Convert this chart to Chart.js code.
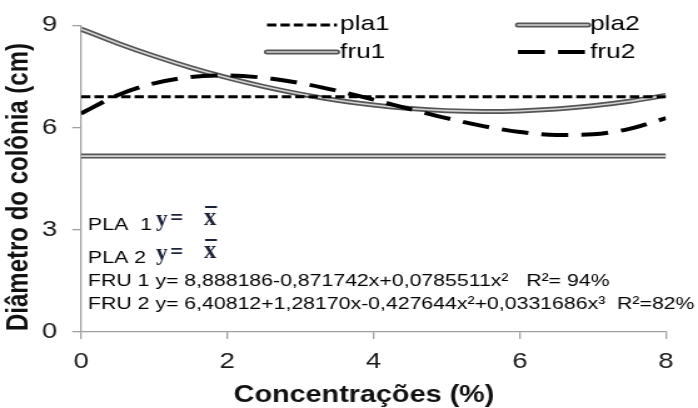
<!DOCTYPE html>
<html>
<head>
<meta charset="utf-8">
<script src="https://cdn.jsdelivr.net/npm/chart.js@4.4.1/dist/chart.umd.min.js"></script>
<style>
  html, body { margin: 0; padding: 0; background: #fff; }
</style>
</head>
<body>
<canvas id="c" width="558" height="408" style="display:block;width:698px;height:408px"></canvas>
<script>
// The drawing surface is 558 px wide and shown 698 px wide (horizontal stretch).
const SX = 698 / 558;

// Concentration (%) sample points of the fitted curves
const concentrations = [0, 0.5, 1, 1.5, 2, 2.5, 3, 3.5, 4, 4.5, 5, 5.5, 6, 6.5, 7, 7.5, 8];
// FRU 1: quadratic fit
const fru1 = [8.888, 8.472, 8.095, 7.757, 7.459, 7.200, 6.980, 6.799, 6.658, 6.556, 6.493, 6.470, 6.485, 6.540, 6.635, 6.768, 6.941];
// FRU 2: cubic fit
const fru2 = [6.408, 6.946, 7.295, 7.480, 7.526, 7.458, 7.300, 7.078, 6.815, 6.538, 6.272, 6.040, 5.868, 5.780, 5.802, 5.959, 6.275];
// PLA 1 / PLA 2: mean values (flat lines)
const plaRange = [0, 8];
const pla1 = [6.90, 6.90];
const pla2 = [5.16, 5.16];

const xTickValues = [0, 2, 4, 6, 8];
const yTickValues = [0, 3, 6, 9];
const seriesNames = ['pla1', 'pla2', 'fru1', 'fru2'];
const xTitle = 'Concentrações (%)';
const yTitle = 'Diâmetro do colônia (cm)';
const fruEquations = [
  'FRU 1 y= 8,888186-0,871742x+0,0785511x²   R²= 94%',
  'FRU 2 y= 6,40812+1,28170x-0,427644x²+0,0331686x³  R²=82%'
];
const plaLabels = ['PLA  1', 'PLA 2'];

const toPoints = (xs, ys) => xs.map((x, i) => ({ x: x, y: ys[i] }));

const DASH_SHORT = [7.5, 3.2];
const DASH_LONG = [21.5, 10.5];
const OUTER = '#555555';
const INNER = '#d4d4d4';
const SANS = '"Liberation Sans", Arial, sans-serif';

function lineSet(data, color, width, dash, order) {
  return {
    data: data,
    borderColor: color,
    borderWidth: width,
    borderDash: dash,
    pointRadius: 0,
    fill: false,
    cubicInterpolationMode: 'monotone',
    borderCapStyle: 'butt',
    order: order
  };
}

const datasets = [
  lineSet(toPoints(plaRange, pla2), OUTER, 5, [], 6),
  lineSet(toPoints(plaRange, pla2), INNER, 1.6, [], 5),
  lineSet(toPoints(concentrations, fru1), OUTER, 5, [], 4),
  lineSet(toPoints(concentrations, fru1), INNER, 1.6, [], 3),
  lineSet(toPoints(plaRange, pla1), '#000000', 3, DASH_SHORT, 2),
  lineSet(toPoints(concentrations, fru2), '#000000', 4, DASH_LONG, 1)
];

function doubleLine(ctx, x1, x2, y) {
  ctx.setLineDash([]);
  ctx.lineCap = 'round';
  ctx.strokeStyle = OUTER; ctx.lineWidth = 5;
  ctx.beginPath(); ctx.moveTo(x1, y); ctx.lineTo(x2, y); ctx.stroke();
  ctx.strokeStyle = INNER; ctx.lineWidth = 1.6;
  ctx.beginPath(); ctx.moveTo(x1, y); ctx.lineTo(x2, y); ctx.stroke();
}
function dashLine(ctx, x1, x2, y, dash, w) {
  ctx.setLineDash(dash);
  ctx.lineCap = 'butt';
  ctx.strokeStyle = '#000'; ctx.lineWidth = w;
  ctx.beginPath(); ctx.moveTo(x1, y); ctx.lineTo(x2, y); ctx.stroke();
  ctx.setLineDash([]);
}

// Legend, axis titles and fit equations drawn on top of the plot
const overlay = {
  id: 'overlay',
  afterDraw(chart) {
    const ctx = chart.ctx;
    ctx.save();
    const lx1 = 267 / SX, lx2 = 337 / SX, rx1 = 518 / SX, rx2 = 588 / SX;
    const row1 = 25, row2 = 52;
    dashLine(ctx, lx1, lx2, row1, DASH_SHORT, 3);
    doubleLine(ctx, lx1, lx2, row2);
    doubleLine(ctx, rx1, rx2, row1);
    dashLine(ctx, rx1, rx2, row2, DASH_LONG, 4);
    ctx.fillStyle = '#000';
    ctx.font = '21px ' + SANS;
    ctx.textBaseline = 'alphabetic';
    ctx.textAlign = 'left';
    ctx.fillText(seriesNames[0], 340 / SX, 30);
    ctx.fillText(seriesNames[2], 340 / SX, 57.5);
    ctx.fillText(seriesNames[1], 590 / SX, 30);
    ctx.fillText(seriesNames[3], 590 / SX, 57.5);

    // equations
    ctx.font = '17px ' + SANS;
    const tx = 88 / SX;
    ctx.fillText(plaLabels[0], tx, 230);
    ctx.fillText(plaLabels[1], tx, 263);
    ctx.fillText(fruEquations[0], tx, 286);
    ctx.fillText(fruEquations[1], tx, 309);

    // axis titles
    ctx.fillStyle = '#111';
    ctx.font = 'bold 23px ' + SANS;
    ctx.textAlign = 'center';
    ctx.textBaseline = 'middle';
    ctx.fillText(xTitle, 364 / SX, 396);
    ctx.save();
    ctx.translate(19 / SX, 187);
    ctx.rotate(-Math.PI / 2);
    ctx.font = 'bold 24px ' + SANS;
    ctx.fillText(yTitle, 0, 0);
    ctx.restore();

    // y = x̄ (mean) in serif, not stretched
    ctx.save();
    ctx.scale(1 / SX, 1);
    ctx.textAlign = 'left';
    ctx.textBaseline = 'alphabetic';
    ctx.fillStyle = '#1d2438';
    [[226, 225, 207], [260, 258, 240]].forEach(([by, bx, oy]) => {
      ctx.font = 'bold 23px "Liberation Serif", "DejaVu Serif", serif';
      ctx.fillText('y', 156, by);
      ctx.fillText('=', 170, by - 1);
      ctx.font = 'bold 25px "Liberation Serif", "DejaVu Serif", serif';
      ctx.fillText('x', 204, bx);
      ctx.fillRect(205, oy - 1, 12, 2);
    });
    ctx.restore();
    ctx.restore();
  }
};

new Chart(document.getElementById('c'), {
  type: 'line',
  data: { datasets: datasets },
  plugins: [overlay],
  options: {
    responsive: false,
    animation: false,
    devicePixelRatio: 1,
    layout: { padding: { top: 24, right: 558 - 666 / SX, left: 0, bottom: 0 } },
    plugins: { legend: { display: false }, tooltip: { enabled: false } },
    scales: {
      x: {
        type: 'linear',
        min: 0, max: 8,
        afterFit(s) { s.height = 76; },
        afterBuildTicks(s) { s.ticks = xTickValues.map(v => ({ value: v })); },
        ticks: { color: '#1a1a1a', font: { family: SANS, size: 22 }, padding: 10, maxRotation: 0 },
        grid: { drawOnChartArea: false, drawTicks: true, tickLength: 7, color: '#a0a0a0', lineWidth: 1.3 },
        border: { display: true, color: '#a0a0a0', width: 1.3 }
      },
      y: {
        min: 0, max: 9,
        afterFit(s) { s.width = 81 / SX; },
        afterBuildTicks(s) { s.ticks = yTickValues.map(v => ({ value: v })); },
        ticks: { color: '#1a1a1a', font: { family: SANS, size: 22 }, padding: 12 },
        grid: { drawOnChartArea: false, drawTicks: true, tickLength: 7, color: '#a0a0a0', lineWidth: 1.3 },
        border: { display: true, color: '#a0a0a0', width: 1.3 }
      }
    }
  }
});
</script>
</body>
</html>
